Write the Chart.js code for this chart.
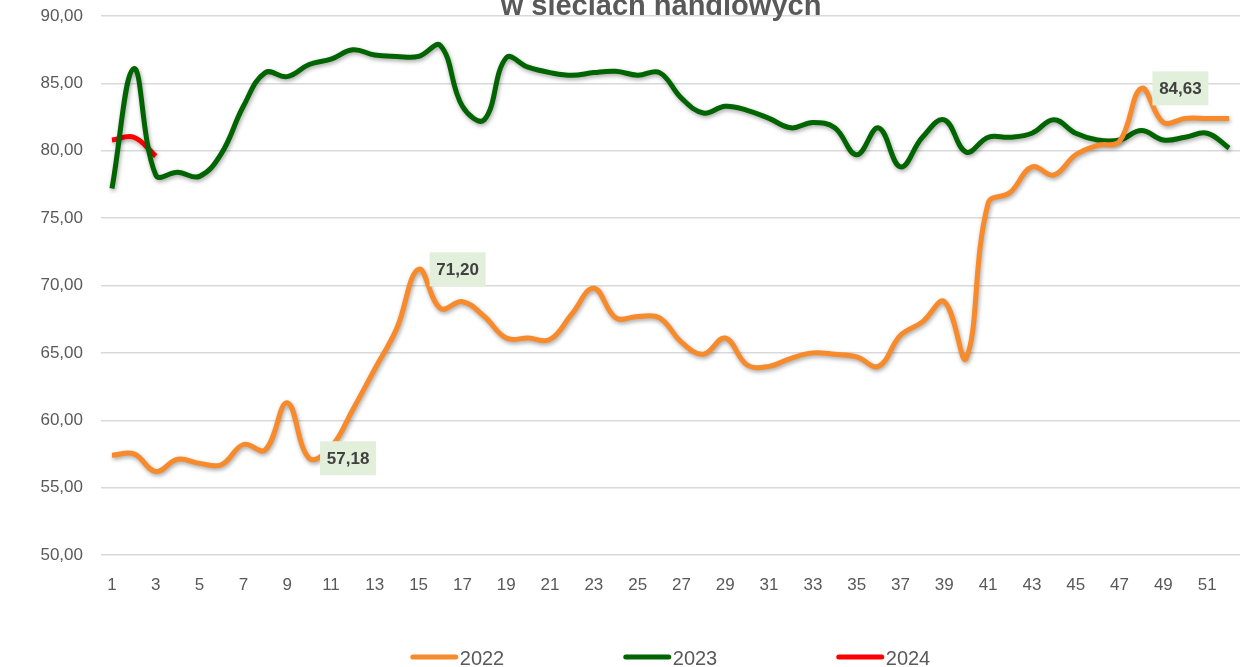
<!DOCTYPE html>
<html>
<head>
<meta charset="utf-8">
<script src="https://cdn.jsdelivr.net/npm/chart.js@4.4.1/dist/chart.umd.min.js"></script>
<style>
  html, body { margin: 0; padding: 0; background: #fff; }
  #wrap { width: 1242px; height: 667px; }
</style>
</head>
<body>
<div id="wrap"><canvas id="chart"></canvas></div>
<script>
// Weeks of the year
const weeks = ['1', '2', '3', '4', '5', '6', '7', '8', '9', '10', '11', '12', '13',
  '14', '15', '16', '17', '18', '19', '20', '21', '22', '23', '24', '25', '26',
  '27', '28', '29', '30', '31', '32', '33', '34', '35', '36', '37', '38', '39',
  '40', '41', '42', '43', '44', '45', '46', '47', '48', '49', '50', '51', '52'];

const values2022 = [57.4, 57.5, 56.2, 57.1, 56.8, 56.7, 58.2, 57.8, 61.3, 57.18,
  58.0, 60.8, 63.8, 66.8, 71.20, 68.3, 68.8, 67.7, 66.1, 66.1, 66.0, 67.9, 69.8,
  67.6, 67.7, 67.6, 65.8, 64.9, 66.1, 64.1, 64.0, 64.6, 65.0, 64.9, 64.7, 64.0,
  66.3, 67.3, 68.8, 64.6, 76.1, 76.9, 78.8, 78.2, 79.7, 80.4, 80.7, 84.63, 82.1,
  82.4, 82.4, 82.4];

const values2023 = [77.2, 86.1, 78.2, 78.4, 78.1, 79.8, 83.3, 85.8, 85.5, 86.4,
  86.8, 87.5, 87.1, 87.0, 87.0, 87.8, 83.3, 82.3, 86.9, 86.2, 85.8, 85.6, 85.8,
  85.9, 85.6, 85.8, 83.9, 82.8, 83.3, 83.0, 82.4, 81.7, 82.1, 81.7, 79.7, 81.7,
  78.8, 81.0, 82.3, 79.9, 81.0, 81.0, 81.3, 82.3, 81.3, 80.8, 80.8, 81.5, 80.8,
  81.0, 81.3, 80.2];

const values2024 = [80.8, 81.0, 79.6];

// Weeks of 2022 that carry a value label
const labelledWeeks2022 = ['10', '15', '48'];

const yMin = 50;
const yMax = 90;
const yStep = 5;

const titleText = 'w sieciach handlowych';
const textColor = '#595959';

function formatValue(v) {
  return v.toFixed(2).replace('.', ',');
}

// Soft shadow under the lines, like the Excel original
const shadowPlugin = {
  id: 'lineShadow',
  beforeDatasetDraw(chart) {
    const ctx = chart.ctx;
    ctx.save();
    ctx.shadowColor = 'rgba(0, 0, 0, 0.35)';
    ctx.shadowBlur = 4;
    ctx.shadowOffsetX = 1;
    ctx.shadowOffsetY = 2;
  },
  afterDatasetDraw(chart) {
    chart.ctx.restore();
  }
};

// Value labels with a pale green box
const valueLabelPlugin = {
  id: 'valueLabels',
  afterDatasetsDraw(chart) {
    const ctx = chart.ctx;
    const meta = chart.getDatasetMeta(0);
    ctx.save();
    ctx.font = 'bold 17px "Liberation Sans", Arial, sans-serif';
    ctx.textAlign = 'center';
    ctx.textBaseline = 'middle';
    labelledWeeks2022.forEach(week => {
      const idx = weeks.indexOf(week);
      const point = meta.data[idx];
      const text = formatValue(values2022[idx]);
      const w = 56;
      const h = 34;
      const x = point.x + 11;
      const y = point.y - h / 2;
      ctx.fillStyle = '#E2EFDA';
      ctx.fillRect(x, y, w, h);
      ctx.fillStyle = '#404040';
      ctx.fillText(text, x + w / 2, point.y + 1);
    });
    ctx.restore();
  }
};

// Title (its first line lies above the picture) and bottom legend
const decorPlugin = {
  id: 'decor',
  afterDraw(chart) {
    const ctx = chart.ctx;
    const area = chart.chartArea;
    ctx.save();

    ctx.font = 'bold 29px "Liberation Sans", Arial, sans-serif';
    ctx.fillStyle = textColor;
    ctx.textAlign = 'center';
    ctx.textBaseline = 'alphabetic';
    ctx.fillText(titleText, 661, 15);

    const lineLen = 47;
    const gap = 2;
    const step = 213;
    ctx.font = '20px "Liberation Sans", Arial, sans-serif';
    const datasets = chart.data.datasets;
    const lastTextW = ctx.measureText(datasets[datasets.length - 1].label).width;
    const groupW = step * (datasets.length - 1) + lineLen + gap + lastTextW;
    let x = (area.left + area.right) / 2 - groupW / 2;
    const y = 659;
    ctx.textAlign = 'left';
    ctx.textBaseline = 'middle';
    datasets.forEach(ds => {
      ctx.strokeStyle = ds.borderColor;
      ctx.lineWidth = 5;
      ctx.lineCap = 'round';
      ctx.beginPath();
      ctx.moveTo(x + 2, y - 2);
      ctx.lineTo(x + lineLen - 2, y - 2);
      ctx.stroke();
      ctx.fillStyle = textColor;
      ctx.fillText(ds.label, x + lineLen + gap, y);
      x += step;
    });
    ctx.restore();
  }
};

const ctx = document.getElementById('chart').getContext('2d');
new Chart(ctx, {
  type: 'line',
  data: {
    labels: weeks,
    datasets: [
      {
        label: '2022',
        data: values2022,
        borderColor: '#F78A2B',
        borderWidth: 5,
        tension: 0.4,
        pointRadius: 0
      },
      {
        label: '2023',
        data: values2023,
        borderColor: '#006400',
        borderWidth: 5,
        tension: 0.4,
        pointRadius: 0
      },
      {
        label: '2024',
        data: values2024,
        borderColor: '#FF0000',
        borderWidth: 5,
        tension: 0.4,
        pointRadius: 0
      }
    ]
  },
  options: {
    responsive: true,
    maintainAspectRatio: false,
    animation: false,
    layout: {
      padding: { top: 16, right: 2, bottom: 0, left: 0 }
    },
    plugins: {
      legend: { display: false },
      title: { display: false },
      tooltip: { enabled: false }
    },
    scales: {
      x: {
        offset: true,
        grid: { display: false },
        border: { display: false },
        ticks: {
          autoSkip: false,
          maxRotation: 0,
          padding: 12,
          color: textColor,
          font: { family: '"Liberation Sans", Arial, sans-serif', size: 17 },
          callback: function(value, index) {
            return index % 2 === 0 ? weeks[index] : '';
          }
        },
        afterFit: function(scale) {
          scale.height = 112;
        }
      },
      y: {
        min: yMin,
        max: yMax,
        border: { display: false },
        grid: {
          color: '#D9D9D9',
          lineWidth: 1.5,
          drawTicks: false
        },
        ticks: {
          stepSize: yStep,
          padding: 18,
          color: textColor,
          font: { family: '"Liberation Sans", Arial, sans-serif', size: 17 },
          callback: function(value) {
            return formatValue(value);
          }
        },
        afterFit: function(scale) {
          scale.width = 101;
          scale.paddingTop = 0;
          scale.paddingBottom = 0;
        }
      }
    }
  },
  plugins: [shadowPlugin, valueLabelPlugin, decorPlugin]
});
</script>
</body>
</html>
